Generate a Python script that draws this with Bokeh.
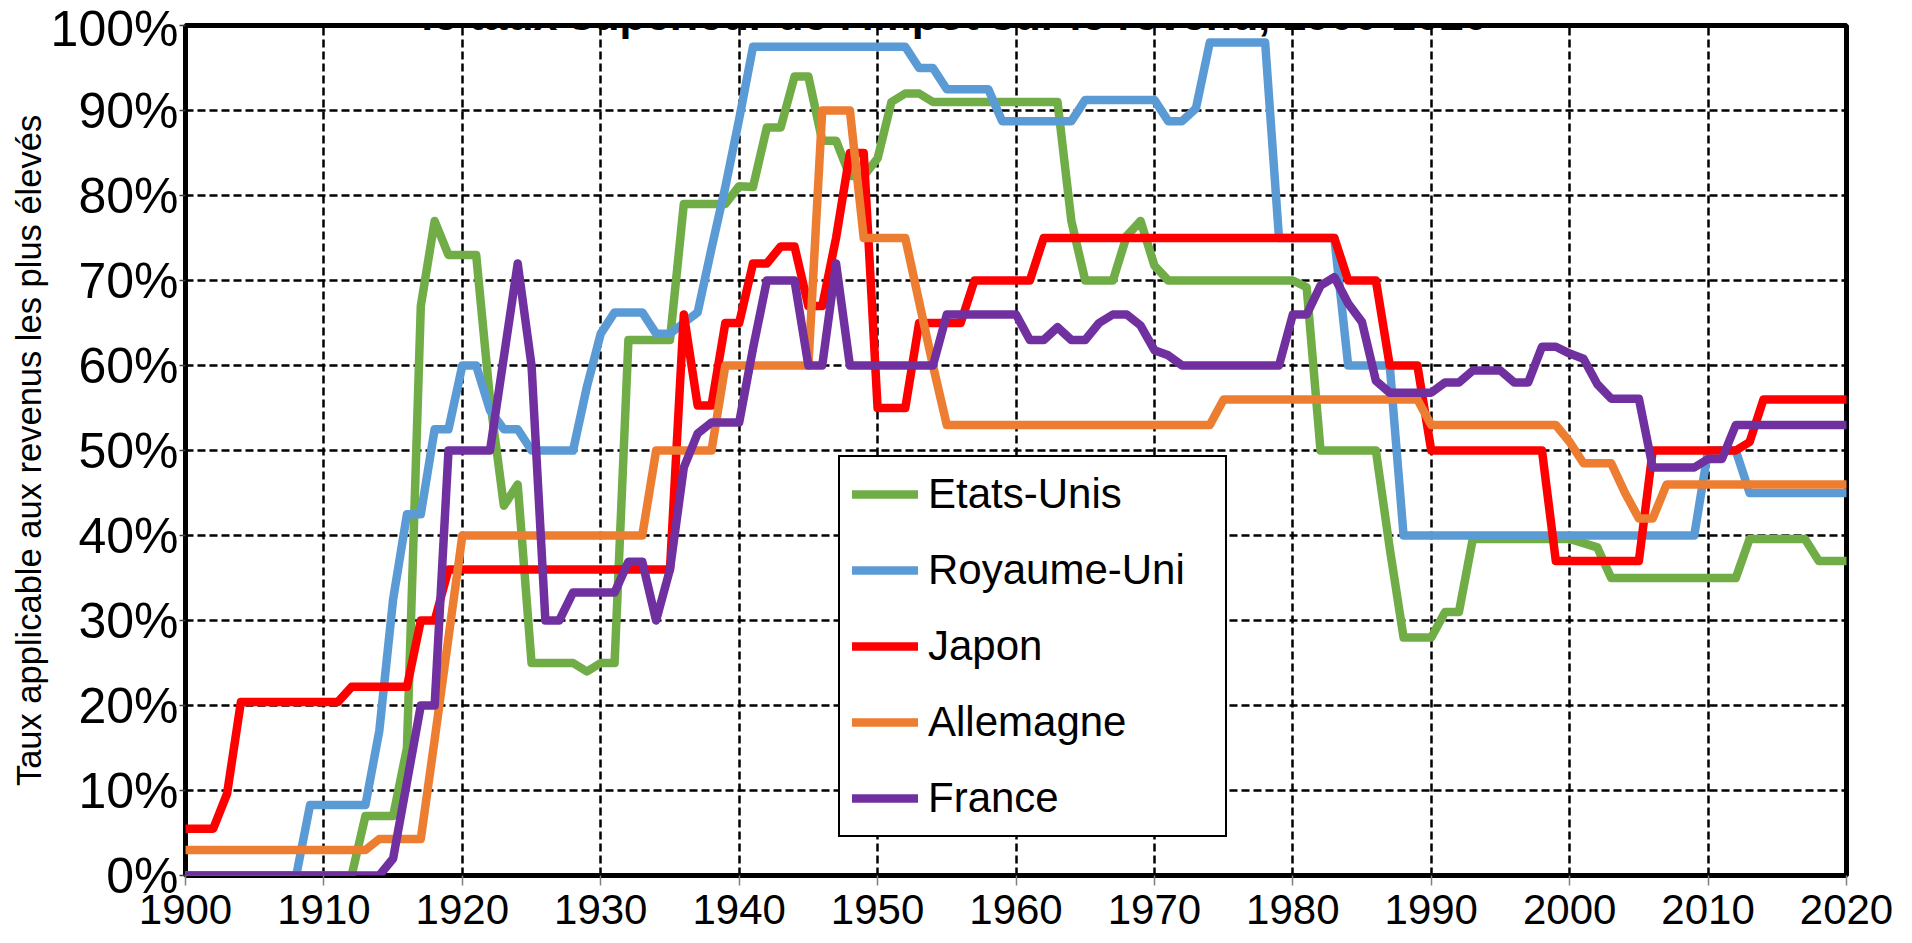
from bokeh.plotting import figure
from bokeh.models import (ColumnDataSource, FixedTicker, PrintfTickFormatter, Legend, LegendItem,
                          Label, Range1d)
from bokeh.embed import file_html
from bokeh.resources import INLINE

# ---------------- data (top income tax rate, %) ----------------
countries = ["Etats-Unis", "Royaume-Uni", "Japon", "Allemagne", "France"]
colors = ["#70AD47", "#5B9BD5", "#FF0000", "#ED7D31", "#7030A0"]

us_years = [1900, 1912, 1913, 1915, 1916, 1917, 1918, 1919, 1921, 1922, 1923, 1924, 1925, 1928, 1929,
            1930, 1931, 1932, 1935, 1936, 1939, 1940, 1941, 1942, 1943, 1944, 1945, 1946, 1947, 1948,
            1949, 1950, 1951, 1952, 1953, 1954, 1963, 1964, 1965, 1967, 1968, 1969, 1970, 1971, 1980,
            1981, 1982, 1986, 1987, 1988, 1990, 1991, 1992, 1993, 2000, 2001, 2002, 2003, 2012, 2013,
            2017, 2018, 2020]
us_rates = [0, 0, 7, 7, 15, 67, 77, 73, 73, 56, 43.5, 46, 25, 25, 24,
            25, 25, 63, 63, 79, 79, 81.1, 81, 88, 88, 94, 94, 86.45, 86.45, 82.3,
            82.3, 84.36, 91, 92, 92, 91, 91, 77, 70, 70, 75.25, 77, 71.75, 70, 70,
            69.2, 50, 50, 38.5, 28, 28, 31, 31, 39.6, 39.6, 39.1, 38.6, 35, 35, 39.6,
            39.6, 37, 37]

uk_years = [1900, 1908, 1909, 1913, 1914, 1915, 1916, 1917, 1918, 1919, 1920, 1921, 1922, 1923, 1924,
            1925, 1928, 1929, 1930, 1931, 1933, 1934, 1935, 1936, 1937, 1938, 1939, 1940, 1941, 1952,
            1953, 1954, 1955, 1958, 1959, 1964, 1965, 1970, 1971, 1972, 1973, 1974, 1978, 1979, 1983,
            1984, 1987, 1988, 2009, 2010, 2012, 2013, 2020]
uk_rates = [0, 0, 8.3, 8.3, 17, 32.5, 42.5, 42.5, 52.5, 52.5, 60, 60, 54.7, 52.5, 52.5,
            50, 50, 57.5, 63.75, 66.25, 66.25, 63.75, 63.75, 65, 66.25, 73.75, 81, 89, 97.5, 97.5,
            95, 95, 92.5, 92.5, 88.75, 88.75, 91.25, 91.25, 88.75, 88.75, 90.25, 98, 98, 75, 75,
            60, 60, 40, 40, 50, 50, 45, 45]

jp_years = [1900, 1902, 1903, 1904, 1911, 1912, 1916, 1917, 1918, 1919, 1935, 1936, 1937, 1938, 1939,
            1940, 1941, 1942, 1943, 1944, 1945, 1946, 1947, 1948, 1949, 1950, 1952, 1953, 1956, 1957,
            1961, 1962, 1983, 1984, 1986, 1987, 1989, 1990, 1998, 1999, 2005, 2006, 2012, 2013, 2014,
            2020]
jp_rates = [5.5, 5.5, 9.6, 20.4, 20.4, 22.2, 22.2, 30, 30, 36, 36, 66, 55.3, 55.3, 65,
            65, 72, 72, 74, 74, 67, 67, 75, 85, 85, 55, 55, 65, 65, 70,
            70, 75, 75, 70, 70, 60, 60, 50, 50, 37, 37, 50, 50, 51, 56,
            56]

de_years = [1900, 1913, 1914, 1917, 1918, 1919, 1920, 1933, 1934, 1938, 1939, 1945, 1946, 1948, 1949,
            1952, 1953, 1954, 1955, 1974, 1975, 1989, 1990, 1999, 2000, 2001, 2003, 2004, 2005, 2006,
            2007, 2020]
de_rates = [3, 3, 4.3, 4.3, 16, 28, 40, 40, 50, 50, 60, 60, 90, 90, 75,
            75, 67.5, 60, 53, 53, 56, 56, 53, 53, 51, 48.5, 48.5, 45, 42, 42,
            46, 46]

fr_years = [1900, 1914, 1915, 1916, 1917, 1918, 1919, 1922, 1923, 1924, 1925, 1926, 1927, 1928, 1931,
            1932, 1933, 1934, 1935, 1936, 1937, 1938, 1940, 1941, 1942, 1944, 1945, 1946, 1947, 1948,
            1954, 1955, 1960, 1961, 1962, 1963, 1964, 1965, 1966, 1967, 1968, 1969, 1970, 1971, 1972,
            1979, 1980, 1981, 1982, 1983, 1984, 1985, 1986, 1987, 1990, 1991, 1992, 1993, 1995, 1996,
            1997, 1998, 1999, 2000, 2001, 2002, 2003, 2005, 2006, 2009, 2010, 2011, 2012, 2020]
fr_rates = [0, 0, 2, 11, 20, 20, 50, 50, 61, 72, 60, 30, 30, 33.3, 33.3,
            36.9, 36.9, 30, 36, 48, 52, 53.3, 53.3, 62, 70, 70, 60, 60, 72, 60,
            60, 66, 66, 63, 63, 64.5, 63, 63, 65, 66, 66, 64.7, 61.8, 61.2, 60,
            60, 66, 66, 69.4, 70.4, 67.3, 65.1, 58.2, 56.8, 56.8, 58, 58, 59.4, 59.4, 58,
            58, 62.2, 62.2, 61.4, 60.8, 57.8, 56.1, 56.1, 48, 48, 49, 49, 53, 53]

series_years = [us_years, uk_years, jp_years, de_years, fr_years]
series_rates = [us_rates, uk_rates, jp_rates, de_rates, fr_rates]

x_ticks = [1900, 1910, 1920, 1930, 1940, 1950, 1960, 1970, 1980, 1990, 2000, 2010, 2020]
y_ticks = [0, 10, 20, 30, 40, 50, 60, 70, 80, 90, 100]

title_text = "le taux supérieur de l'impôt sur le revenu, 1900-2020"
y_title = "Taux applicable aux revenus les plus élevés"

FONT = "Liberation Sans"

# ---------------- figure ----------------
p = figure(width=1912, height=943, x_range=Range1d(1900, 2020), y_range=Range1d(0, 100),
           output_backend="svg", toolbar_location=None,
           min_border_left=185, min_border_right=66, min_border_top=25, min_border_bottom=68)
p.background_fill_color = "white"
p.border_fill_color = "white"
p.outline_line_color = "black"
p.outline_line_width = 5

# grid
p.xgrid.ticker = FixedTicker(ticks=x_ticks)
p.ygrid.ticker = FixedTicker(ticks=y_ticks)
for g in (p.xgrid, p.ygrid):
    g.grid_line_color = "black"
    g.grid_line_width = 2.5
    g.grid_line_dash = "8 4"

# x axis
p.xaxis.ticker = FixedTicker(ticks=x_ticks)
p.xaxis.axis_line_color = None
p.xaxis.major_tick_out = 10
p.xaxis.major_tick_in = 0
p.xaxis.major_tick_line_color = "#808080"
p.xaxis.major_tick_line_width = 1.5
p.xaxis.minor_tick_line_color = None
p.xaxis.major_label_standoff = 9
p.xaxis.major_label_text_font = FONT
p.xaxis.major_label_text_font_size = "42px"
p.xaxis.major_label_text_color = "black"

# y axis
p.yaxis.ticker = FixedTicker(ticks=y_ticks)
p.yaxis.formatter = PrintfTickFormatter(format="%d%%")
p.yaxis.axis_line_color = None
p.yaxis.major_tick_out = 6
p.yaxis.major_tick_in = 0
p.yaxis.major_tick_line_color = "#404040"
p.yaxis.major_tick_line_width = 1.5
p.yaxis.minor_tick_line_color = None
p.yaxis.major_label_standoff = 1
p.yaxis.major_label_text_font = FONT
p.yaxis.major_label_text_font_size = "50px"
p.yaxis.major_label_text_color = "black"
p.yaxis.axis_label = y_title
p.yaxis.axis_label_text_font = FONT
p.yaxis.axis_label_text_font_size = "34.5px"
p.yaxis.axis_label_text_font_style = "normal"
p.yaxis.axis_label_text_color = "black"
p.yaxis.axis_label_standoff = 0

# lines
renderers = []
for yrs, vals, col in zip(series_years, series_rates, colors):
    src = ColumnDataSource(dict(x=yrs, y=vals))
    r = p.line(x="x", y="y", source=src, line_color=col, line_width=8.5,
               line_join="round", line_cap="round")
    renderers.append(r)

# chart title (partly cut off at the top, as in the reference)
p.add_layout(Label(x=1955.56, y=101.18, text=title_text,
                   text_align="center", text_baseline="alphabetic",
                   text_font=FONT, text_font_size="43px", text_font_style="bold",
                   text_color="black"))

# legend
items = [LegendItem(label=c, renderers=[r]) for c, r in zip(countries, renderers)]
legend = Legend(items=items, location=(653, 38), orientation="vertical",
                border_line_color="black", border_line_width=2.5, border_line_alpha=1,
                background_fill_color="white", background_fill_alpha=1,
                padding=12, spacing=26, margin=0,
                glyph_width=66, glyph_height=50, label_height=50,
                label_standoff=10, label_width=285,
                label_text_font=FONT, label_text_font_size="42px", label_text_color="black")
p.add_layout(legend)

open("out.html", "w").write(file_html(p, INLINE))
